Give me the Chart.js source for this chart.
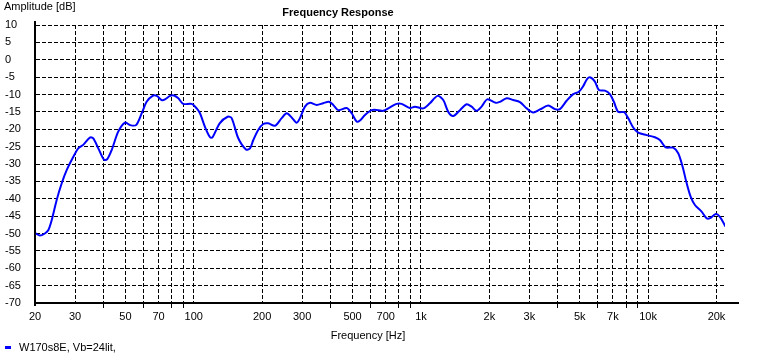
<!DOCTYPE html>
<html>
<head>
<meta charset="utf-8">
<script src="https://cdn.jsdelivr.net/npm/chart.js@4/dist/chart.umd.min.js"></script>
<style>
  html, body { margin: 0; padding: 0; background: #ffffff; }
  #wrap { position: relative; width: 775px; height: 354px; }
</style>
</head>
<body>
<div id="wrap"><canvas id="c" width="775" height="354"></canvas></div>
<script>
// ---- data ----
const chartTitle = "Frequency Response";
const yAxisTitle = "Amplitude [dB]";
const xAxisTitle = "Frequency [Hz]";
const seriesName = "W170s8E, Vb=24lit,";

const freqs = [20.2, 21.0, 22.1, 22.9, 23.7, 24.9, 26.2, 27.6, 29.5, 31.0, 32.6, 34.9, 36.1, 38.0, 40.3, 41.6, 43.5, 46.5, 49.8, 52.4, 55.7, 59.0, 62.0, 65.9, 68.7, 72.2, 74.7, 78.6, 81.8, 85.5, 89.9, 97.9, 103, 106.5, 112, 117.9, 121, 130, 141, 146.8, 157, 169.7, 176.8, 182.8, 192.1, 202.2, 212.7, 227.6, 243.7, 256.4, 269.7, 283.7, 293.4, 308.6, 324.6, 347.5, 371.4, 393.6, 411.1, 432.5, 471, 495.5, 521.3, 539, 567, 606.8, 648.6, 682.3, 730.3, 781.5, 822.2, 894.4, 940.8, 1023, 1095, 1184, 1254, 1319, 1387, 1485, 1589, 1671, 1758, 1849, 1958, 2139, 2226, 2384, 2549, 2728, 2920, 3121, 3341, 3633, 3889, 4090, 4378, 4681, 4959, 5180, 5394, 5583, 5832, 6073, 6452, 6787, 7068, 7383, 7846, 8171, 8597, 9044, 9849, 10713, 11269, 11940, 12898, 13568, 14188, 14775, 15387, 16073, 17202, 18093, 18706, 19875, 20697, 21928];

const amplitudeDb = [-50, -50.6, -50, -49, -46.1, -40.4, -35.6, -31.7, -27.9, -25.5, -24.5, -22.4, -22.6, -25.5, -28.8, -28.6, -26, -20.7, -18.1, -18.8, -18.8, -15.4, -12.1, -10.4, -10.4, -11.6, -11.4, -10.4, -10.3, -11.1, -12.7, -12.7, -14, -15.4, -19.3, -22.3, -22.3, -18.3, -16.4, -16.8, -22.6, -25.8, -25.5, -23.1, -20.2, -18.5, -18.3, -19, -16.8, -15.4, -16.6, -18.1, -16.8, -13.5, -12.4, -13, -12.5, -12.1, -13, -14.5, -13.9, -15.4, -17.8, -17.5, -15.9, -14.5, -14.5, -14.7, -13.7, -12.7, -12.7, -13.9, -13.5, -14, -12.5, -10.4, -11.6, -15, -16.2, -14.5, -12.8, -13.5, -14.7, -13.5, -11.4, -12.4, -12.1, -11.1, -11.6, -12.2, -14, -15.2, -14.3, -13.2, -14.2, -14.2, -11.8, -9.9, -9.2, -7.6, -5.5, -5.1, -6.3, -8.7, -8.9, -9.9, -12.1, -15, -15.1, -16.8, -19.5, -21, -21.7, -22.3, -23.1, -25.2, -25.3, -26.9, -30.8, -35.5, -39.4, -41.8, -43.7, -45.6, -45.6, -44.4, -45.2, -48];

const xGridValues = [20, 30, 40, 50, 60, 70, 80, 90, 100, 200, 300, 400, 500, 600, 700, 800, 900, 1000, 2000, 3000, 4000, 5000, 6000, 7000, 8000, 9000, 10000, 20000];
const xLabelledValues = [20, 30, 50, 70, 100, 200, 300, 500, 700, 1000, 2000, 3000, 5000, 7000, 10000, 20000];
const xMin = 20, xMax = 21800;
const yMin = -70, yMax = 10, yStep = 5;

// ---- chart ----
Chart.defaults.font.family = "'Liberation Sans', Arial, sans-serif";
Chart.defaults.font.size = 11;
Chart.defaults.color = '#000000';

const points = freqs.map((f, i) => ({ x: f, y: amplitudeDb[i] }));

function fmtFreq(v) {
  return v >= 1000 ? (v / 1000) + 'k' : String(v);
}

const textPlugin = {
  id: 'texts',
  afterDraw(chart) {
    const ctx = chart.ctx;
    const a = chart.chartArea;
    ctx.save();
    // axis line extensions
    ctx.strokeStyle = '#000';
    ctx.lineWidth = 2;
    ctx.beginPath();
    ctx.moveTo(a.right - 1, a.bottom);
    ctx.lineTo(a.right + 14, a.bottom);
    ctx.moveTo(a.left, a.top);
    ctx.lineTo(a.left, a.top - 4);
    ctx.moveTo(a.left, a.bottom);
    ctx.lineTo(a.left, a.bottom + 3);
    ctx.stroke();

    ctx.fillStyle = '#000';
    ctx.textBaseline = 'middle';
    ctx.font = "11px 'Liberation Sans', Arial, sans-serif";
    ctx.textAlign = 'left';
    ctx.fillText(yAxisTitle, 4, 7);
    ctx.textAlign = 'center';
    ctx.fillText(xAxisTitle, 368, 336);
    ctx.font = "bold 11px 'Liberation Sans', Arial, sans-serif";
    ctx.fillText(chartTitle, 338, 13);

    // legend
    ctx.strokeStyle = '#0000ff';
    ctx.lineWidth = 3;
    ctx.beginPath();
    ctx.moveTo(5, 347.5);
    ctx.lineTo(11, 347.5);
    ctx.stroke();
    ctx.font = "11px 'Liberation Sans', Arial, sans-serif";
    ctx.textAlign = 'left';
    ctx.fillText(seriesName, 19, 348);
    ctx.restore();
  }
};

new Chart(document.getElementById('c'), {
  type: 'line',
  data: {
    datasets: [{
      label: seriesName,
      data: points,
      borderColor: '#0000ff',
      backgroundColor: '#0000ff',
      borderWidth: 2,
      pointRadius: 0,
      tension: 0.3,
      fill: false
    }]
  },
  options: {
    responsive: false,
    animation: false,
    layout: { padding: { left: 5, top: 25, right: 50, bottom: 0 } },
    plugins: {
      legend: { display: false },
      title: { display: false },
      tooltip: { enabled: false }
    },
    scales: {
      x: {
        type: 'logarithmic',
        min: xMin,
        max: xMax,
        afterBuildTicks: (scale) => {
          scale.ticks = xGridValues.map(v => ({ value: v }));
        },
        afterFit: (scale) => { scale.height = 51; },
        ticks: {
          autoSkip: false,
          maxRotation: 0,
          minRotation: 0,
          padding: 1,
          color: '#000',
          callback: (v) => xLabelledValues.includes(v) ? fmtFreq(v) : ''
        },
        grid: {
          color: '#000',
          lineWidth: 1,
          drawTicks: true,
          tickLength: 6,
          tickBorderDash: [4, 2],
          tickColor: (c) => (c.tick && xLabelledValues.includes(c.tick.value)) ? 'rgba(0,0,0,0)' : '#000'
        },
        border: { display: true, color: '#000', width: 2, dash: [4, 2] }
      },
      y: {
        type: 'linear',
        min: yMin,
        max: yMax,
        afterFit: (scale) => { scale.width = 30; },
        ticks: {
          stepSize: yStep,
          crossAlign: 'far',
          padding: 0,
          color: '#000'
        },
        grid: {
          color: '#000',
          lineWidth: 1,
          drawTicks: false
        },
        border: { display: true, color: '#000', width: 2, dash: [4, 2] }
      }
    }
  },
  plugins: [textPlugin]
});
</script>
</body>
</html>
